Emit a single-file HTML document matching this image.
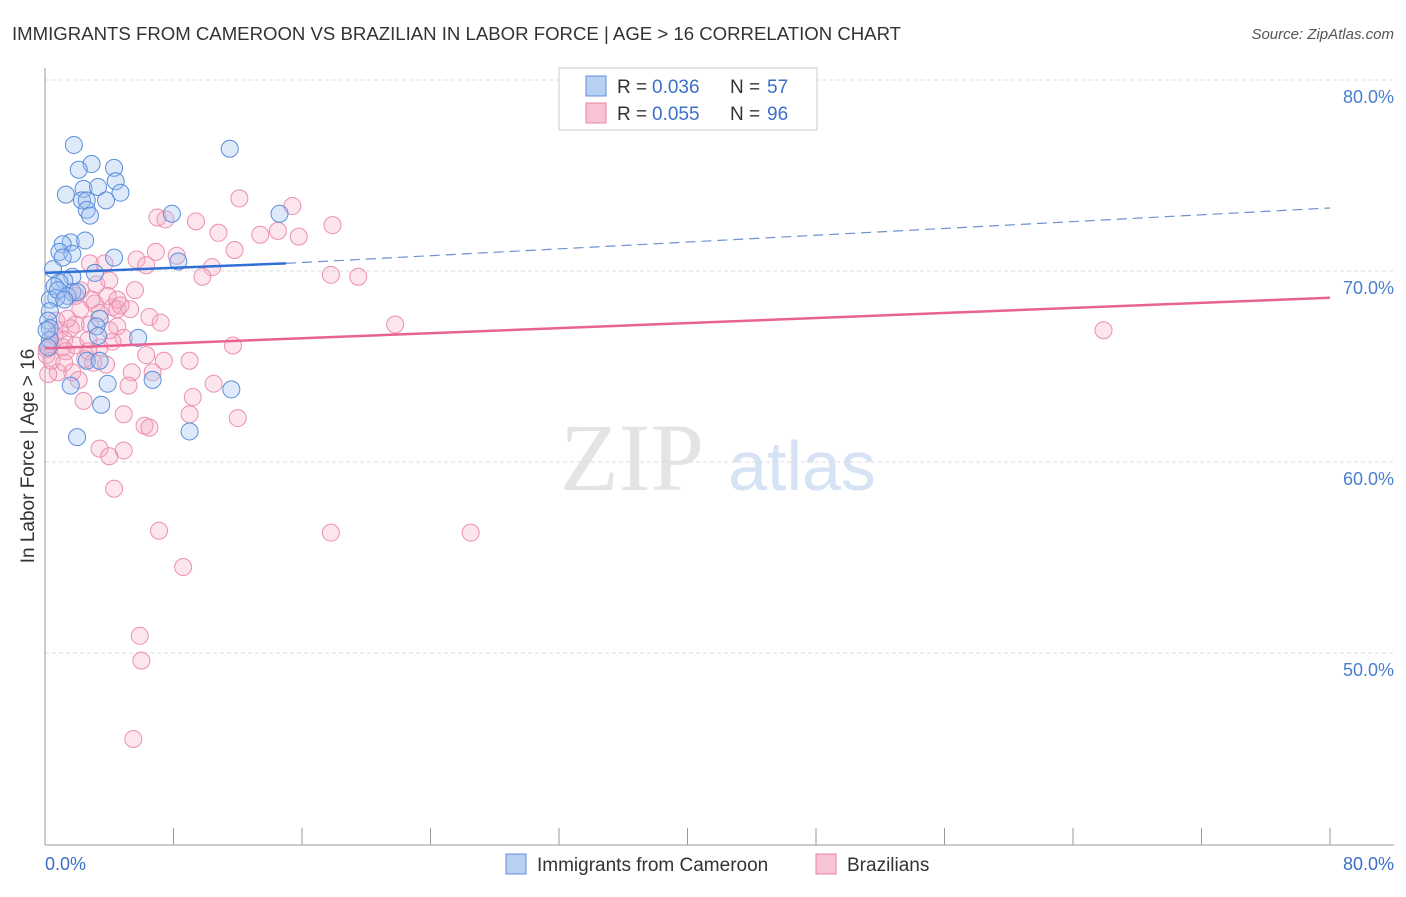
<!DOCTYPE html>
<html><head><meta charset="utf-8"><style>
body{margin:0;background:#fff;font-family:"Liberation Sans",sans-serif;}
</style></head><body>
<svg width="1406" height="892" xmlns="http://www.w3.org/2000/svg">
<text x="12" y="40" font-size="18.6" fill="#333">IMMIGRANTS FROM CAMEROON VS BRAZILIAN IN LABOR FORCE | AGE &gt; 16 CORRELATION CHART</text>
<text x="1394" y="39" font-size="15" fill="#555" font-style="italic" text-anchor="end">Source: ZipAtlas.com</text>
<text x="632" y="490" font-size="96" fill="#e4e4e4" font-family="Liberation Serif" text-anchor="middle">ZIP</text>
<text x="802" y="490" font-size="70" fill="#d5e3f5" text-anchor="middle">atlas</text>
<g id="grid"></g>
<line x1="45" y1="68" x2="45" y2="845" stroke="#999"/>
<line x1="45" y1="845" x2="1394" y2="845" stroke="#999"/>
<text transform="translate(34,456) rotate(-90)" font-size="19" fill="#333" text-anchor="middle">In Labor Force | Age &gt; 16</text>
<text x="45" y="870" font-size="18" fill="#3b6fc9">0.0%</text>
<text x="1394" y="870" font-size="18" fill="#3b6fc9" text-anchor="end">80.0%</text>
<g id="pts"></g>
<g id="trends"></g>
<g>
<rect x="559" y="68" width="258" height="62" fill="#fff" stroke="#ccc"/>
<rect x="586" y="76" width="20" height="20" fill="#b8d1f3" stroke="#5b8fdc"/>
<rect x="586" y="103" width="20" height="20" fill="#f8c3d4" stroke="#e87fa3"/>
<text x="617" y="93" font-size="19" fill="#333">R =</text>
<text x="652" y="93" font-size="19" fill="#3b6fc9">0.036</text>
<text x="730" y="93" font-size="19" fill="#333">N =</text>
<text x="767" y="93" font-size="19" fill="#3b6fc9">57</text>
<text x="617" y="120" font-size="19" fill="#333">R =</text>
<text x="652" y="120" font-size="19" fill="#3b6fc9">0.055</text>
<text x="730" y="120" font-size="19" fill="#333">N =</text>
<text x="767" y="120" font-size="19" fill="#3b6fc9">96</text>
</g>
<g>
<rect x="506" y="854" width="20" height="20" fill="#b8d1f3" stroke="#5b8fdc"/>
<text x="537" y="871" font-size="19" fill="#333">Immigrants from Cameroon</text>
<rect x="816" y="854" width="20" height="20" fill="#f8c3d4" stroke="#e87fa3"/>
<text x="847" y="871" font-size="19" fill="#333">Brazilians</text>
</g>
</svg>
<script>
const yTicks=[80,70,60,50];
const yTickLabels=["80.0%","70.0%","60.0%","50.0%"];
const xTicks=[8,16,24,32,40,48,56,64,72,80];
const blueX=[1.8,11.5,2.9,4.3,2.1,4.4,2.4,3.3,4.7,1.3,2.3,2.6,3.8,2.6,2.8,7.9,14.6,1.6,2.5,1.1,0.9,1.7,4.3,1.1,8.3,0.5,3.1,1.7,1.2,0.9,0.6,1.7,1.4,0.7,2.0,0.3,0.3,0.2,0.3,3.4,3.2,3.3,5.8,2.6,3.4,3.9,1.6,6.7,11.6,3.5,9.0,2.0,0.3,0.2,0.1,0.8,1.2];
const blueY=[76.6,76.4,75.6,75.4,75.3,74.7,74.3,74.4,74.1,74.0,73.7,73.7,73.7,73.2,72.9,73.0,73.0,71.5,71.6,71.4,71.0,70.9,70.7,70.7,70.5,70.1,69.9,69.7,69.5,69.4,69.2,68.9,68.7,68.6,68.9,68.5,67.9,67.4,67.0,67.5,67.1,66.6,66.5,65.3,65.3,64.1,64.0,64.3,63.8,63.0,61.6,61.3,66.4,66.0,66.9,69.0,68.5];
const pinkX=[12.1,15.4,7.0,7.5,9.4,17.9,10.8,13.4,14.5,15.8,11.8,6.9,8.2,5.7,6.3,10.4,9.8,17.8,19.5,2.8,3.7,4.0,3.2,5.6,1.9,3.1,2.2,4.2,4.5,6.5,7.2,21.8,65.9,3.4,2.8,1.9,1.6,0.9,0.6,1.2,0.3,0.1,4.5,4.9,4.2,11.7,6.3,7.4,9.0,2.5,3.0,3.8,1.7,0.8,5.4,6.7,5.2,10.5,9.2,2.4,4.9,9.0,12.0,6.2,6.5,3.4,4.9,4.0,4.3,7.1,17.8,26.5,8.6,5.9,6.0,5.5,0.2,0.4,0.1,1.1,1.3,1.9,2.7,3.4,4.0,5.3,0.7,1.4,2.2,2.9,3.9,4.5,4.7,1.2,2.1,2.7];
const pinkY=[73.8,73.4,72.8,72.7,72.6,72.4,72.0,71.9,72.1,71.8,71.1,71.0,70.8,70.6,70.3,70.2,69.7,69.8,69.7,70.4,70.4,69.5,69.3,69.0,68.7,68.3,68.0,68.1,68.0,67.6,67.3,67.2,66.9,67.8,67.2,67.2,67.0,66.9,66.6,66.4,66.1,65.9,67.1,66.5,66.3,66.1,65.6,65.3,65.3,65.4,65.2,65.1,64.7,64.7,64.7,64.7,64.0,64.1,63.4,63.2,62.5,62.5,62.3,61.9,61.8,60.7,60.6,60.3,58.6,56.4,56.3,56.3,54.5,50.9,49.6,45.5,64.6,65.3,65.6,66.0,65.8,66.1,66.4,66.0,66.9,68.0,67.4,67.5,69.0,68.5,68.7,68.5,68.2,65.2,64.3,65.8];
const blueTrend=[69.9,70.4,73.3]; // at x=0,15,80
const pinkTrend=[65.95,68.6]; // at x=0,80
const NS="http://www.w3.org/2000/svg";
const sx=v=>45+v*(1330-45)/80;
const sy=v=>80+(80-v)*19.1;
function mk(t,a,p){const e=document.createElementNS(NS,t);for(const k in a)e.setAttribute(k,a[k]);p.appendChild(e);return e;}
const grid=document.getElementById('grid');
yTicks.forEach((t,i)=>{
 const l=mk('line',{x1:45,x2:1394,y1:sy(t),y2:sy(t),stroke:'#ddd','stroke-dasharray':'4,3'},grid);
 
 
 const tx=mk('text',{x:1394,y:sy(t)+23,'font-size':18,fill:'#4a7fd0','text-anchor':'end'},grid);
 tx.textContent=yTickLabels[i];
 
 
});
xTicks.forEach(t=>{
 const l=mk('line',{x1:sx(t),x2:sx(t),y1:828,y2:845,stroke:'#999'},grid);
 
 
});
const pts=document.getElementById('pts');
pinkX.forEach((x,i)=>{
 const c=mk('circle',{cx:sx(x),cy:sy(pinkY[i]),r:8.5,fill:'rgba(244,170,195,0.3)',stroke:'#ec8fb0','stroke-width':1},pts);
 
 
});
blueX.forEach((x,i)=>{
 const c=mk('circle',{cx:sx(x),cy:sy(blueY[i]),r:8.5,fill:'rgba(160,196,240,0.35)',stroke:'#5a8ddb','stroke-width':1},pts);
 
 
});
const tr=document.getElementById('trends');
let a=mk('line',{x1:sx(0),y1:sy(blueTrend[0]),x2:sx(15),y2:sy(blueTrend[1]),stroke:'#2f6fd6','stroke-width':2.5},tr);


a=mk('line',{x1:sx(15),y1:sy(blueTrend[1]),x2:sx(80),y2:sy(blueTrend[2]),stroke:'#6a93cf','stroke-width':1.2,'stroke-dasharray':'10,6'},tr);


a=mk('line',{x1:sx(0),y1:sy(pinkTrend[0]),x2:sx(80),y2:sy(pinkTrend[1]),stroke:'#e8648f','stroke-width':2.5},tr);


</script>
</body></html>
